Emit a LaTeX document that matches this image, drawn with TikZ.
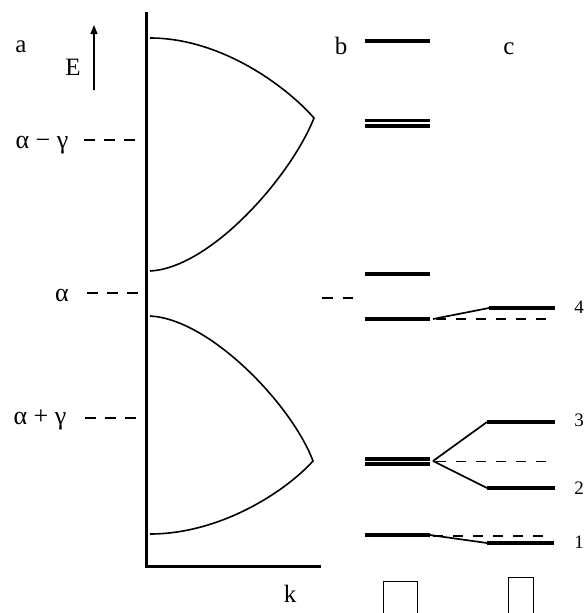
\documentclass[tikz,border=0pt]{standalone}
\usepackage{fontspec}
\setmainfont{Liberation Serif}
\usetikzlibrary{arrows.meta}

\begin{document}
\begin{tikzpicture}[
  x=1pt, y=-1pt,
  lbl/.style={font=\fontsize{25}{29}\selectfont, inner sep=0pt},
  greek/.style={font=\fontsize{26}{30}\selectfont, inner sep=0pt},
  num/.style={font=\fontsize{19}{22}\selectfont, inner sep=0pt},
  axis/.style={line width=3pt, line join=miter},
  band/.style={line width=1.6pt, line join=miter},
  level/.style={line width=3.6pt},
  guide/.style={line width=1.6pt, dash pattern=on 11pt off 9pt},
  split/.style={line width=1.8pt, dash pattern=on 10pt off 10pt},
  link/.style={line width=1.7pt},
  cell/.style={draw, line width=1.1pt, anchor=north west, inner sep=0pt},
  arr/.style={-{Triangle[length=9pt,width=7pt]}, line width=1.2pt},
]
\useasboundingbox (0,0) rectangle (586,613);

% ---- panel a: the two bands ----
\draw[axis] (146,12) -- (146,566) -- (321,566);
\draw[band] (150,38) .. controls (220,38) and (285,85) .. (314,118)
            .. controls (290,178) and (210,268) .. (150,271);
\draw[band] (150,316) .. controls (210,319) and (292,405) .. (313,461)
            .. controls (285,492) and (220,534) .. (150,534);

\node[lbl] (a) at (21,47) {a};
\node[lbl] (E) at (73,67) {E};
\coordinate (Efoot) at (94,90);
\coordinate (Etip)  at (94,25);
\draw[arr] (Efoot) -- (Etip);
\node[lbl] (k) at (290,594) {k};

% energy marks on the left
\node[greek] (amg) at (42,145) {α − γ};
\node[greek] (al)  at (62,295) {α};
\node[greek] (apg) at (40,420) {α + γ};
\draw[guide] (84,140) -- (135,140);
\draw[guide] (87,293) -- (140,293);
\draw[guide] (85,418) -- (138,418);

% ---- panel b: levels of the finite chain ----
\node[lbl] (b) at (341,46) {b};
\draw[guide, dash pattern=on 11pt off 10pt] (322,298) -- (353,298);
\foreach \y in {41,274,319,535}
  \draw[level] (365,\y) -- (430,\y);
\foreach \y in {120.3,126,458.8,464}
  \draw[level] (365,\y) -- (430,\y);
\node[cell, minimum width=34pt, minimum height=40pt] (boxb) at (383,581) {};

% ---- panel c: split levels ----
\node[lbl] (c) at (509,49) {c};
\coordinate (b4) at (433,319);
\coordinate (b3) at (433,461);
\coordinate (b1) at (430,535);
\coordinate (c4) at (489,308);
\coordinate (c3) at (487,422);
\coordinate (c2) at (487,488);
\coordinate (c1) at (487,543);

\draw[split] (436,319) -- (551,319);
\draw[split] (436,461.5) -- (551,461.5);
\draw[split] (433,536) -- (551,536);

\draw[link] (b4) -- (c4);
\draw[link] (b3) -- (c3);
\draw[link] (b3) -- (c2);
\draw[link] (b1) -- (c1);

\draw[level] (c4) -- ++(66,0);
\draw[level] (c3) -- ++(68,0);
\draw[level] (c2) -- ++(68,0);
\draw[level] (c1) -- ++(67,0);

\node[num] (n4) at (579,307) {4};
\node[num] (n3) at (579,420) {3};
\node[num] (n2) at (579,488) {2};
\node[num] (n1) at (579,542) {1};

\node[cell, minimum width=25pt, minimum height=40pt] (boxc) at (508,577) {};
\end{tikzpicture}
\end{document}
